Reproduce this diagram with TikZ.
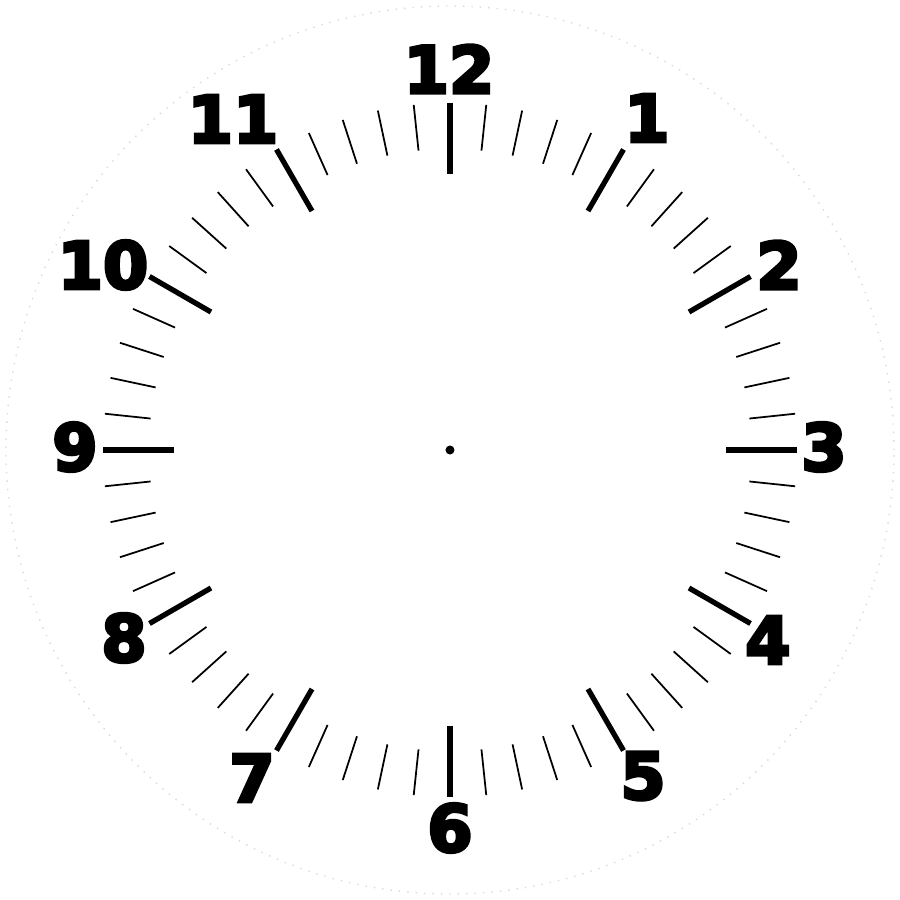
\documentclass[tikz,border=0pt]{standalone}
\usepackage{fontspec}
\newfontfamily\dialfont{DejaVu Sans}
\usetikzlibrary{calc}
\definecolor{ink}{HTML}{000000}
\definecolor{rimgray}{HTML}{DADADA}
% heavier digits: fill and stroke the glyph outlines
\newcommand\heavydigits[1]{\special{pdf:literal q 2 Tr 0.9 w}#1\special{pdf:literal Q}}
\tikzset{
  rim/.style={draw=rimgray,line width=.4pt,dotted},
  hourtick/.style={draw=ink,line width=1.5pt},
  minutetick/.style={draw=ink,line width=.5pt},
  hournum/.style={font=\dialfont\bfseries\fontsize{18.5}{18.5}\selectfont,text=ink,inner sep=0pt,anchor=center},
}

\begin{document}
\begin{tikzpicture}[x=1cm,y=1cm]
\useasboundingbox (-4.5,-4.5) rectangle (4.5,4.5);
\draw[rim] (0,0) circle (4.44);
\foreach \m in {0,...,59}{
  \pgfmathtruncatemacro{\isHour}{mod(\m,5)==0}
  \ifnum\isHour=1
    \draw[hourtick] (90-6*\m:2.76) -- (90-6*\m:3.47);
  \else
    \draw[minutetick] (90-6*\m:3.01) -- (90-6*\m:3.47);
  \fi
}
\fill[ink] (0,0) circle (.045);
\node[hournum] (h12) at (-0.01,3.81) {\heavydigits{12}};
\node[hournum] (h1) at (1.97,3.32) {\heavydigits{1}};
\node[hournum] (h2) at (3.29,1.85) {\heavydigits{2}};
\node[hournum] (h3) at (3.74,0.03) {\heavydigits{3}};
\node[hournum] (h4) at (3.18,-1.90) {\heavydigits{4}};
\node[hournum] (h5) at (1.93,-3.26) {\heavydigits{5}};
\node[hournum] (h6) at (0,-3.78) {\heavydigits{6}};
\node[hournum] (h7) at (-1.98,-3.28) {\heavydigits{7}};
\node[hournum] (h8) at (-3.26,-1.88) {\heavydigits{8}};
\node[hournum] (h9) at (-3.75,0.03) {\heavydigits{9}};
\node[hournum] (h10) at (-3.47,1.85) {\heavydigits{10}};
\node[hournum] (h11) at (-2.17,3.31) {\heavydigits{11}};
\end{tikzpicture}
\end{document}
